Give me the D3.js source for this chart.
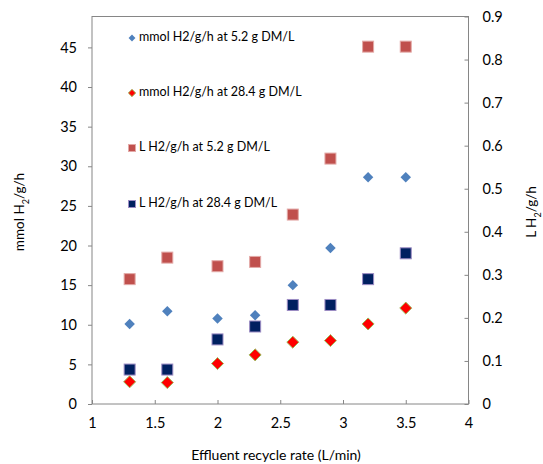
<!DOCTYPE html>
<html>
<head>
<meta charset="utf-8">
<script src="https://cdn.jsdelivr.net/npm/d3@7"></script>
<style>
  body { margin: 0; background: #fff; }
  text { font-family: Lato, "Open Sans", sans-serif; fill: #000; }
</style>
</head>
<body>
<svg id="chart" width="543" height="464"></svg>
<script>
// data
let recycleRate = [1.3, 1.6, 2.0, 2.3, 2.6, 2.9, 3.2, 3.5];
let mmolLow = [10.1, 11.7, 10.8, 11.2, 15.0, 19.7, 28.6, 28.6];     // mmol H2/g/h at 5.2 g DM/L
let mmolHigh = [2.8, 2.7, 5.1, 6.2, 7.8, 8.0, 10.1, 12.1];          // mmol H2/g/h at 28.4 g DM/L
let litreLow = [0.29, 0.34, 0.32, 0.33, 0.44, 0.57, 0.83, 0.83];    // L H2/g/h at 5.2 g DM/L
let litreHigh = [0.08, 0.08, 0.15, 0.18, 0.23, 0.23, 0.29, 0.35];   // L H2/g/h at 28.4 g DM/L
let xTicks = [1, 1.5, 2, 2.5, 3, 3.5, 4];
let leftTicks = [0, 5, 10, 15, 20, 25, 30, 35, 40, 45];
let rightTicks = [0, 0.1, 0.2, 0.3, 0.4, 0.5, 0.6, 0.7, 0.8, 0.9];
let legendLabels = [
    "mmol H2/g/h at 5.2 g DM/L",
    "mmol H2/g/h at 28.4 g DM/L",
    "L H2/g/h at 5.2 g DM/L",
    "L H2/g/h at 28.4 g DM/L"
];

let svg = d3.select("#chart");

const plotLeft = 92, plotRight = 468.5, plotTop = 16.5, plotBottom = 404;
const axisColor = "#868686";

let x = d3.scaleLinear().domain([1, 4]).range([plotLeft, plotRight]);
let yLeft = d3.scaleLinear().domain([0, 48.9]).range([plotBottom, plotTop]);
let yRight = d3.scaleLinear().domain([0, 0.9]).range([plotBottom, plotTop]);

// plot box
svg.append("rect")
    .attr("x", plotLeft).attr("y", plotTop)
    .attr("width", plotRight - plotLeft).attr("height", plotBottom - plotTop)
    .attr("fill", "none")
    .attr("stroke", axisColor)
    .attr("stroke-width", 1);

// axes
function styleAxis(g) {
    g.select(".domain").remove();
    g.selectAll(".tick line").attr("stroke", axisColor);
    g.selectAll(".tick text").style("font-size", "14.5px").attr("fill", "#000");
}

svg.append("g")
    .attr("transform", `translate(0,${plotBottom})`)
    .call(d3.axisBottom(x).tickValues(xTicks).tickSizeInner(-4).tickSizeOuter(0).tickPadding(14).tickFormat(d3.format("")))
    .call(styleAxis);

svg.append("g")
    .attr("transform", `translate(${plotLeft},0)`)
    .call(d3.axisLeft(yLeft).tickValues(leftTicks).tickSize(4).tickPadding(11).tickFormat(d3.format("")))
    .call(styleAxis);

svg.append("g")
    .attr("transform", `translate(${plotRight},0)`)
    .call(d3.axisRight(yRight).tickValues(rightTicks).tickSizeInner(-4).tickSizeOuter(0).tickPadding(14).tickFormat(d3.format("")))
    .call(styleAxis);

// axis titles
svg.append("text")
    .attr("x", 276)
    .attr("y", 456)
    .attr("text-anchor", "middle")
    .attr("dominant-baseline", "middle")
    .style("font-size", "14px")
    .text("Effluent recycle rate (L/min)");

let leftTitle = svg.append("text")
    .attr("transform", "translate(21,212) rotate(-90)")
    .attr("text-anchor", "middle")
    .attr("dominant-baseline", "middle")
    .style("font-size", "13.5px");
leftTitle.append("tspan").text("mmol H");
leftTitle.append("tspan").attr("baseline-shift", "sub").style("font-size", "9px").text("2");
leftTitle.append("tspan").text("/g/h");

let rightTitle = svg.append("text")
    .attr("transform", "translate(533,212) rotate(-90)")
    .attr("text-anchor", "middle")
    .attr("dominant-baseline", "middle")
    .style("font-size", "13.5px");
rightTitle.append("tspan").text("L H");
rightTitle.append("tspan").attr("baseline-shift", "sub").style("font-size", "9px").text("2");
rightTitle.append("tspan").text("/g/h");

// markers
let diamond = d3.symbol().type(d3.symbolDiamond2);

function drawSquares(values, fill, stroke, size) {
    svg.append("g").selectAll("rect")
        .data(values)
        .enter().append("rect")
        .attr("x", (d, i) => x(recycleRate[i]) - size / 2)
        .attr("y", d => yRight(d) - size / 2)
        .attr("width", size).attr("height", size)
        .attr("fill", fill)
        .attr("stroke", stroke)
        .attr("stroke-width", 1);
}

function drawDiamonds(values, fill, stroke, size) {
    svg.append("g").selectAll("path")
        .data(values)
        .enter().append("path")
        .attr("d", diamond.size(size)())
        .attr("transform", (d, i) => `translate(${x(recycleRate[i])},${yLeft(d)})`)
        .attr("fill", fill)
        .attr("stroke", stroke)
        .attr("stroke-width", stroke === "none" ? 0 : 1);
}

drawSquares(litreLow, "#C0504D", "#E3A9A7", 11);
drawSquares(litreHigh, "#002060", "#9C8CC4", 11);
drawDiamonds(mmolLow, "#4F81BD", "none", 70);
drawDiamonds(mmolHigh, "#FF0000", "#9BBB59", 92);

// legend
let legendY = [38, 93, 148, 204];
let legend = svg.append("g");
legendLabels.forEach((label, i) => {
    let cx = 132, cy = legendY[i];
    if (i === 0) {
        legend.append("path").attr("d", diamond.size(30)())
            .attr("transform", `translate(${cx},${cy})`).attr("fill", "#4F81BD");
    } else if (i === 1) {
        legend.append("path").attr("d", diamond.size(34)())
            .attr("transform", `translate(${cx},${cy})`).attr("fill", "#FF0000")
            .attr("stroke", "#9BBB59").attr("stroke-width", 1);
    } else {
        legend.append("rect")
            .attr("x", cx - 3.5).attr("y", cy - 3.5).attr("width", 7).attr("height", 7)
            .attr("fill", i === 2 ? "#C0504D" : "#002060")
            .attr("stroke", i === 2 ? "#E3A9A7" : "#9C8CC4").attr("stroke-width", 1);
    }
    legend.append("text")
        .attr("x", 139).attr("y", cy)
        .attr("dominant-baseline", "middle")
        .style("font-size", "12.5px")
        .text(label);
});
</script>
</body>
</html>
